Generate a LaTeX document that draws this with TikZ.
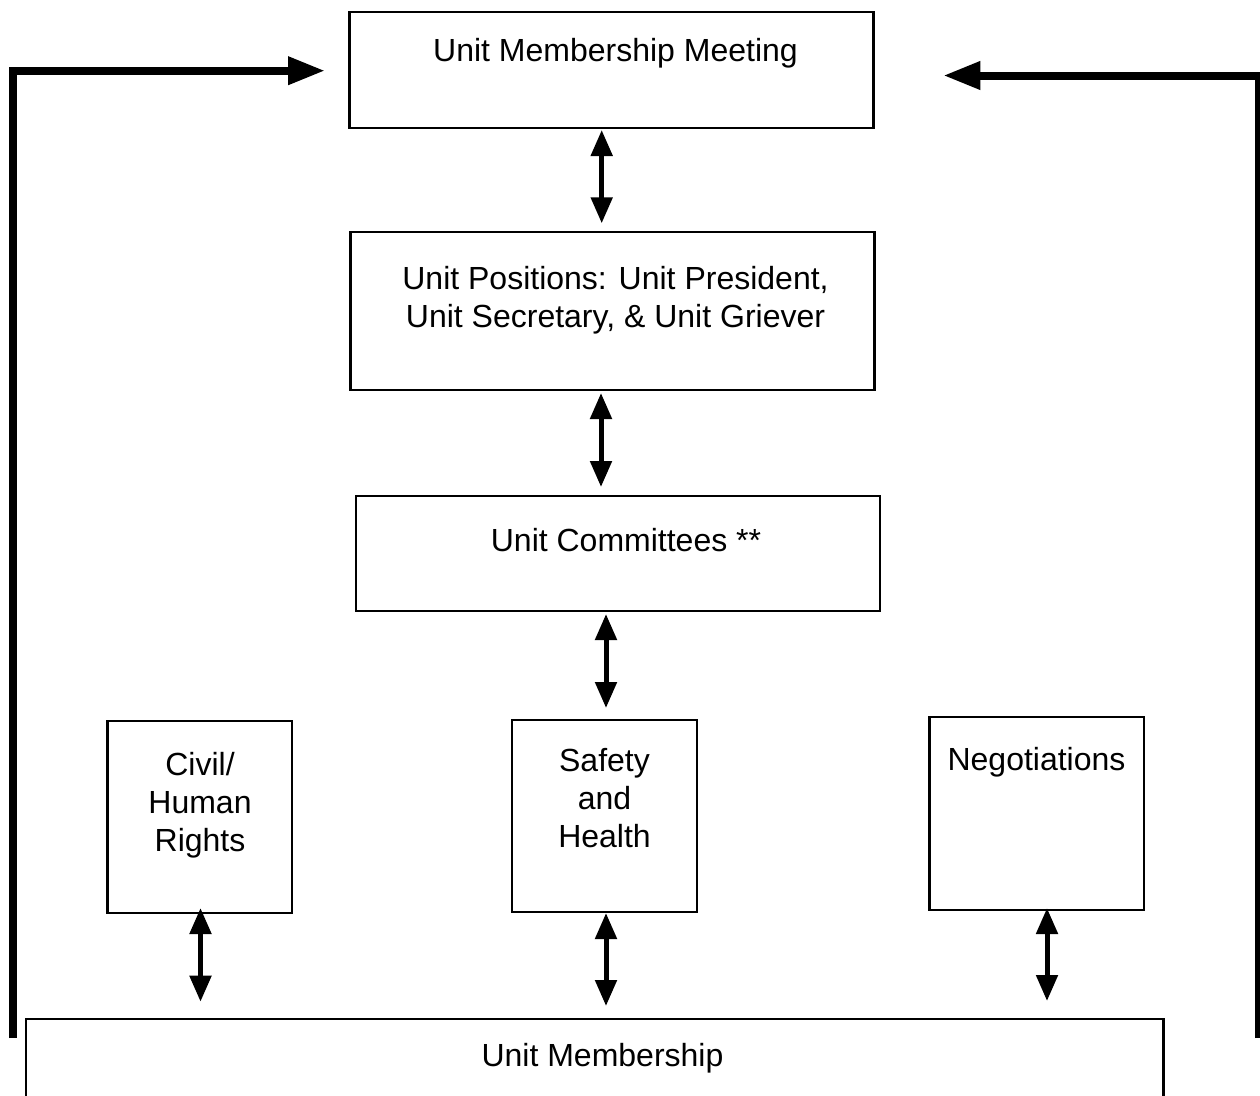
\documentclass[tikz,border=0pt]{standalone}
\usepackage{fontspec}
\setmainfont{Liberation Sans}
\usetikzlibrary{arrows.meta}
\tikzset{
  box/.style={draw, line width=2.5pt, rectangle, inner sep=0pt, outer sep=0pt},
  lbl/.style={anchor=north, align=center, inner sep=0pt, font=\fontsize{32}{38}\selectfont},
  dbl/.style={line width=5pt, {Triangle[length=26pt,width=21pt]}-{Triangle[length=26pt,width=21pt]}},
  big/.style={line width=8pt, -{Triangle[length=37pt,width=26.6pt]}, line join=miter},
}
\begin{document}
\begin{tikzpicture}[x=1pt,y=-1pt]
\useasboundingbox (0,0) rectangle (1260,1095);
\clip (0,0) rectangle (1260,1095);
% boxes
\node[box, minimum width=524pt, minimum height=116pt] (meet) at (611.5,70) {};
\node[box, minimum width=524pt, minimum height=158pt] (pos) at (612.5,311) {};
\node[box, minimum width=524pt, minimum height=115pt] (comm) at (618,553.5) {};
\node[box, minimum width=184.5pt, minimum height=192pt] (civil) at (199.75,817) {};
\node[box, minimum width=185pt, minimum height=192pt] (safety) at (604.5,816) {};
\node[box, minimum width=214.5pt, minimum height=193pt] (neg) at (1036.75,813.5) {};
\node[box, minimum width=1137.5pt, minimum height=120pt] (memb) at (594.75,1079) {};
% labels
\node[lbl] (t1) at (615.5,35.1) {\strut Unit Membership Meeting};
\node[lbl] (t2) at (615.5,262.7) {\strut Unit Positions: Unit President,\\Unit Secretary, \& Unit Griever};
\node[lbl] (t3) at (626,524.4) {\strut Unit Committees **};
\node[lbl] (t4) at (200,748.4) {\strut Civil/\\Human\\Rights};
\node[lbl] (t5) at (604.5,744.4) {\strut Safety\\and\\Health};
\node[lbl] (t6) at (1036.5,743.4) {\strut Negotiations};
\node[lbl] (t7) at (602.5,1039.4) {\strut Unit Membership};
% x positions of the double arrows
\coordinate (a1) at (601.7,0);
\coordinate (a2) at (601,0);
\coordinate (a3) at (606,0);
\coordinate (a4) at (200.5,0);
\coordinate (a5) at (606,0);
\coordinate (a6) at (1047,0);
\draw[dbl, shorten <=2pt, shorten >=8.7pt] (meet.south -| a1) -- (pos.north -| a1);
\draw[dbl, shorten <=3pt, shorten >=9pt] (pos.south -| a2) -- (comm.north -| a2);
\draw[dbl, shorten <=3pt, shorten >=12pt] (comm.south -| a3) -- (safety.north -| a3);
\draw[dbl, shorten <=-5pt, shorten >=17.3pt] (civil.south -| a4) -- (memb.north -| a4);
\draw[dbl, shorten <=1pt, shorten >=13pt] (safety.south -| a5) -- (memb.north -| a5);
\draw[dbl, shorten <=-2pt, shorten >=18pt] (neg.south -| a6) -- (memb.north -| a6);
% outer feedback lines
\coordinate (lb) at (12.5,1038);
\coordinate (lt) at (12.5,70.7);
\coordinate (rb) at (1259,1038);
\coordinate (rt) at (1259,75.5);
\draw[big, shorten >=24.5pt] (lb) -- (lt) -- (meet.west |- lt);
\draw[big, shorten >=69.8pt] (rb) -- (rt) -- (meet.east |- rt);
\end{tikzpicture}
\end{document}
